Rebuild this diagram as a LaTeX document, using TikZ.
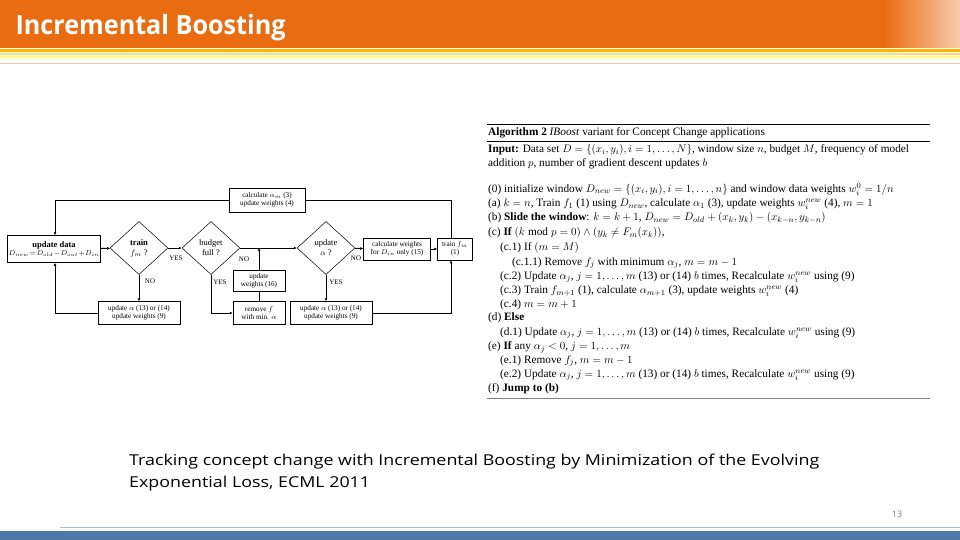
\documentclass[tikz,border=0pt]{standalone}
\usepackage{fontspec}
\setmainfont{Liberation Serif}
\newfontfamily\osans{Open Sans}
\newfontfamily\capfont[FakeStretch=1.19]{Open Sans}
\newfontfamily\ttlfont[FakeStretch=0.95]{Open Sans}
\usetikzlibrary{shapes.geometric,arrows.meta}
\definecolor{orng}{HTML}{E96C10}
\definecolor{barblue}{HTML}{4F79A8}
\begin{document}
\begin{tikzpicture}[x=1pt,y=-1pt,
  fbox/.style={draw,line width=0.5pt,font=\fontsize{7.2}{8}\selectfont,align=center,inner sep=1pt},
  dia/.style={draw,diamond,aspect=1.1,line width=0.5pt,minimum width=58pt,minimum height=53pt,inner sep=0pt,font=\fontsize{8.5}{10}\selectfont,align=center},
  fl/.style={line width=1pt},
  ar/.style={line width=1pt,-{Latex[length=3pt,width=3pt]}},
  lab/.style={font=\fontsize{7}{8}\selectfont,inner sep=0pt},
  alg/.style={anchor=west,inner sep=0pt,font=\fontsize{11.3}{12}\selectfont},
]
\useasboundingbox (0,0) rectangle (960,540);
% header
\fill[orng] (0,0) rectangle (885,48);
\shade[left color=orng,right color=orng!35] (884,0) rectangle (960,48);
\fill[orange!60!yellow] (0,49) rectangle (960,52);
\fill[yellow!60!orange!60] (0,53) rectangle (960,55);
\fill[yellow!40] (0,56) rectangle (960,58);
\fill[yellow!25] (0,59) rectangle (960,60);
\draw[brown!40,line width=0.6pt] (0,63) -- (960,63);
\node[anchor=west,text=white,font=\ttlfont\bfseries\fontsize{26.5}{30}\selectfont] (title) at (12,28) {Incremental Boosting};
% footer
\draw[barblue!50,line width=1pt] (60,527) -- (960,527);
\fill[barblue] (0,531) rectangle (960,540);
\node[text=gray,font=\osans\fontsize{9}{10}\selectfont] (pg) at (897,514) {13};
% caption
\node[anchor=west,align=left,font=\capfont\fontsize{15}{22}\selectfont,inner sep=0pt] (cap) at (129,473)
 {Tracking concept change with Incremental Boosting by Minimization of the Evolving\\Exponential Loss, ECML 2011};
% flowchart
\node[fbox,minimum width=88pt,minimum height=27pt] (ud) at (54,249) {\textbf{\fontsize{8.5}{10}\selectfont update data}\\$D_{new}\!=\!D_{old}\!-\!D_{out}\!+\!D_{in}$};
\node[dia] (tr) at (139,248) {\textbf{train}\\$f_m$ ?};
\node[dia] (bf) at (211,248) {budget\\full ?};
\node[dia] (ua) at (326,248) {update\\$\alpha$ ?};
\node[fbox,minimum width=67pt,minimum height=22pt] (cw) at (397,249) {calculate weights\\for $D_{in}$ only (15)};
\node[fbox,minimum width=35pt,minimum height=22pt] (tf) at (455,249) {train $f_m$\\(1)};
\node[fbox,minimum width=76pt,minimum height=24pt] (ca) at (267,200) {calculate $\alpha_m$ (3)\\update weights (4)};
\node[fbox,minimum width=52pt,minimum height=21pt] (uw) at (259,281) {update\\weights (16)};
\node[fbox,minimum width=52pt,minimum height=23pt] (rf) at (259,313) {remove $f$\\with min. $\alpha$};
\node[fbox,minimum width=82pt,minimum height=23pt] (bl) at (139,313) {update $\alpha$ (13) or (14)\\update weights (9)};
\node[fbox,minimum width=82pt,minimum height=23pt] (br) at (331,313) {update $\alpha$ (13) or (14)\\update weights (9)};
\coordinate (tl) at (55,200); \coordinate (tr2) at (451,200);
\coordinate (lb) at (55,313); \coordinate (rb) at (451,313);
\coordinate (by) at (211,313); \coordinate (jn) at (259,248);
\draw[ar] (ud) -- (tr);
\draw[ar] (tr) -- (bf);
\draw[ar] (bf) -- (ua);
\draw[ar] (ua) -- (cw);
\draw[ar] (cw) -- (tf);
\draw[fl] (tf.north -| tr2) -- (tr2) -- (ca);
\draw[ar] (ca) -- (tl) -- (ud.north -| tl);
\draw[ar] (tr.south) -- (bl.north);
\draw[ar] (bl.west) -- (lb) -- (ud.south -| lb);
\draw[ar] (bf.south) -- (by) -- (rf.west);
\draw[fl] (rf.north) -- (uw.south);
\draw[ar] (uw.north) -- (jn);
\draw[ar] (ua.south) -- (ua.south |- br.north);
\draw[ar] (br.east) -- (rb) -- (tf.south -| rb);
\node[lab] (y1) at (176,258) {YES};
\node[lab] (n1) at (150,281) {NO};
\node[lab] (n2) at (244,259) {NO};
\node[lab] (y2) at (220,282) {YES};
\node[lab] (y3) at (336,282) {YES};
\node[lab] (n3) at (356,258) {NO};
% algorithm
\draw[line width=1pt] (487,125) -- (930,125);
\draw[line width=0.5pt] (487,141) -- (930,141);
\draw[line width=0.5pt,gray] (487,398) -- (930,398);
\node[alg] (t0) at (488,133) {\textbf{Algorithm 2} \textit{IBoost} variant for Concept Change applications};
\node[alg] (l1) at (488,150) {\textbf{Input:} Data set $D=\{(x_i,y_i),i=1,\ldots,N\}$, window size $n$, budget $M$, frequency of model};
\node[alg] (l2) at (488,164) {addition $p$, number of gradient descent updates $b$};
\node[alg] (l3) at (488,189) {(0) initialize window $D_{new}=\{(x_i,y_i),i=1,\ldots,n\}$ and window data weights $w_i^0=1/n$};
\node[alg] (l4) at (488,204) {(a) $k=n$, Train $f_1$ (1) using $D_{new}$, calculate $\alpha_1$ (3), update weights $w_i^{new}$ (4), $m=1$};
\node[alg] (l5) at (488,218) {(b) \textbf{Slide the window}: $k=k+1$, $D_{new}=D_{old}+(x_k,y_k)-(x_{k-n},y_{k-n})$};
\node[alg] (l6) at (488,233) {(c) \textbf{If} $(k\bmod p=0)\wedge(y_k\neq F_m(x_k))$,};
\node[alg] (l7) at (500,248) {(c.1) If $(m=M)$};
\node[alg] (l8) at (512,263) {(c.1.1) Remove $f_j$ with minimum $\alpha_j$, $m=m-1$};
\node[alg] (l9) at (500,277) {(c.2) Update $\alpha_j$, $j=1,\ldots,m$ (13) or (14) $b$ times, Recalculate $w_i^{new}$ using (9)};
\node[alg] (l10) at (500,291) {(c.3) Train $f_{m+1}$ (1), calculate $\alpha_{m+1}$ (3), update weights $w_i^{new}$ (4)};
\node[alg] (l11) at (500,305) {(c.4) $m=m+1$};
\node[alg] (l12) at (488,318) {(d) \textbf{Else}};
\node[alg] (l13) at (500,333) {(d.1) Update $\alpha_j$, $j=1,\ldots,m$ (13) or (14) $b$ times, Recalculate $w_i^{new}$ using (9)};
\node[alg] (l14) at (488,347) {(e) \textbf{If} any $\alpha_j<0$, $j=1,\ldots,m$};
\node[alg] (l15) at (500,361) {(e.1) Remove $f_j$, $m=m-1$};
\node[alg] (l16) at (500,375) {(e.2) Update $\alpha_j$, $j=1,\ldots,m$ (13) or (14) $b$ times, Recalculate $w_i^{new}$ using (9)};
\node[alg] (l17) at (488,389) {(f) \textbf{Jump to (b)}};
\end{tikzpicture}
\end{document}
